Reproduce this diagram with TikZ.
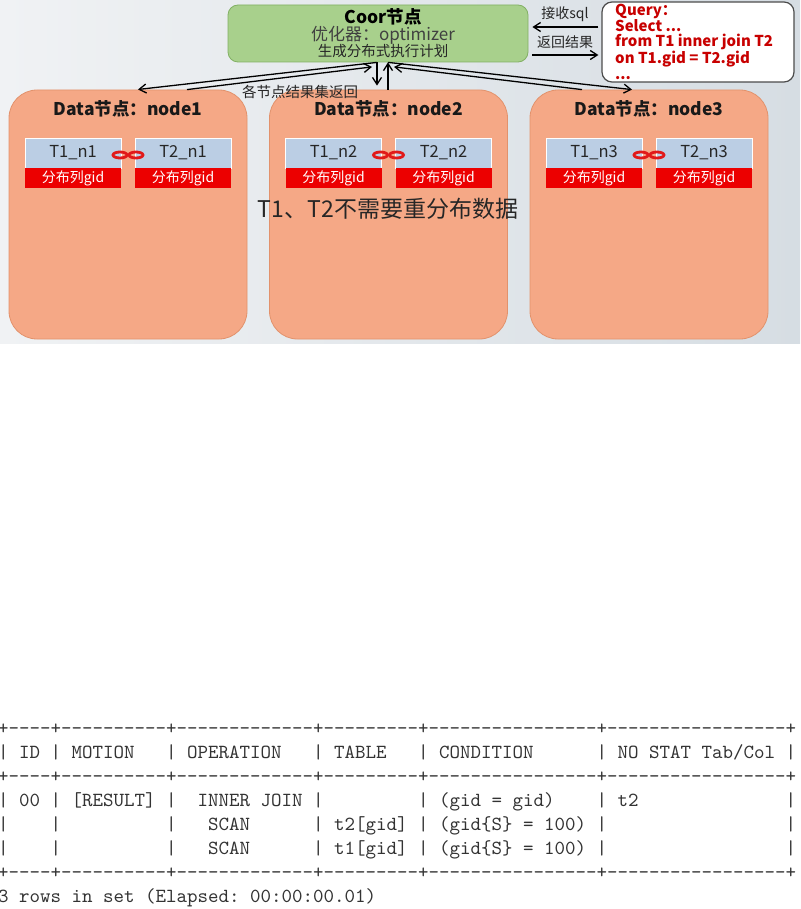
\documentclass[tikz,border=0pt]{standalone}
\usepackage{fontspec}
\setmainfont{Noto Sans CJK SC}
\setmonofont{lmmono10-regular.otf}
\usepackage{tikz}
\usetikzlibrary{arrows.meta,positioning}
\usepackage{xcolor}

\definecolor{bgleft}{RGB}{240,242,244}
\definecolor{bgright}{RGB}{214,221,227}
\definecolor{coorfill}{RGB}{168,208,140}
\definecolor{coorline}{RGB}{130,176,100}
\definecolor{datafill}{RGB}{245,168,134}
\definecolor{dataline}{RGB}{226,146,108}
\definecolor{tabblue}{RGB}{187,206,228}
\definecolor{distred}{RGB}{236,0,0}
\definecolor{queryred}{RGB}{200,0,0}
\definecolor{linkred}{RGB}{225,25,25}

\tikzset{
    arr/.style={line width=1.3pt, -{Straight Barb[length=7pt,width=9pt]}},
    datanode/.style={draw=dataline, fill=datafill, line width=0.8pt, rounded corners=28pt,
        minimum width=238pt, minimum height=249pt},
    nodetitle/.style={font=\fontsize{17.5}{20}\selectfont\bfseries, text=black!90, inner sep=0pt},
    tblbox/.style={fill=tabblue, draw=white, line width=0.6pt, minimum width=96pt, minimum height=30pt,
        inner sep=0pt, font=\fontsize{16.5}{18}\selectfont, text=black!85},
    distbox/.style={fill=distred, minimum width=96pt, minimum height=20pt, inner sep=0pt,
        font=\fontsize{14}{16}\selectfont, text=white},
    lbl/.style={font=\fontsize{14}{16}\selectfont, text=black!85, inner sep=0pt},
    link/.style={draw=linkred, line width=2.8pt},
    planrow/.style={anchor=base west, inner sep=0pt, font=\ttfamily\fontsize{20}{24}\selectfont, text=black!80}
}

\begin{document}
\begin{tikzpicture}[x=1pt, y=-1pt]
    \useasboundingbox (0,0) rectangle (800,909);

    % Background of the upper diagram
    \shade[left color=bgleft, right color=bgright] (0,0) rectangle (800,343);

    % Coordinator node
    \node[draw=coorline, fill=coorfill, line width=0.8pt, rounded corners=10pt,
        minimum width=300pt, minimum height=57pt] (coor) at (378,33.5) {};
    \node[font=\fontsize{17.5}{20}\selectfont\bfseries, inner sep=0pt] (coortitle) at (383,17) {Coor节点};
    \node[font=\fontsize{17}{20}\selectfont, text=black!75, inner sep=0pt] (optimizer) at (383,35) {优化器：optimizer};
    \node[font=\fontsize{14.5}{16}\selectfont, text=black!85, inner sep=0pt] (genplan) at (383,51) {生成分布式执行计划};

    % Query box
    \node[draw=black!70, fill=white, line width=1.2pt, rounded corners=10pt,
        minimum width=192pt, minimum height=80pt] (query) at (698,42) {};
    \node[anchor=north west, align=left, inner sep=0pt, text=queryred,
        font=\fontsize{15}{15.7}\selectfont\bfseries] (sqltext) at (615,4)
        {Query：\\Select ...\\from T1 inner join T2\\on T1.gid = T2.gid\\...};

    % Data nodes with their tables
    \foreach \i/\cx in {1/128, 2/388.5, 3/649} {
        \node[datanode] (n\i) at (\cx,214.5) {};
        \node[nodetitle] (title\i) at (\cx,109) {Data节点：node\i};
        \node[tblbox] (t1n\i) at (\cx-55,153) {T1\_n\i};
        \node[tblbox] (t2n\i) at (\cx+55,153) {T2\_n\i};
        \node[distbox] (d1n\i) at (\cx-55,178) {分布列gid};
        \node[distbox] (d2n\i) at (\cx+55,178) {分布列gid};
        \draw[link] (\cx-8,155) ellipse [x radius=7pt, y radius=3pt];
        \draw[link] (\cx+8,155) ellipse [x radius=7pt, y radius=3pt];
    }

    \node[font=\fontsize{23}{26}\selectfont, text=black!85, inner sep=0pt] (note) at (388,209) {T1、T2不需要重分布数据};

    % Coor <-> data nodes
    \draw[arr, shorten >=1pt] ([xshift=-1pt]coor.south) -- ([xshift=9pt]n1.north);
    \draw[arr] ([xshift=59pt]n1.north) -- ([xshift=-6pt,yshift=-4.5pt]coor.south);
    \draw[arr, shorten >=4pt] ([xshift=-1pt]coor.south) -- ([xshift=-11.5pt]n2.north);
    \draw[arr] ([xshift=-0.5pt]n2.north) -- ([xshift=10pt]coor.south);
    \draw[arr] ([xshift=10pt]coor.south) -- ([xshift=-17pt]n3.north);
    \draw[arr] ([xshift=-67pt]n3.north) -- ([xshift=16pt,yshift=-4.5pt]coor.south);
    \node[lbl, font=\fontsize{14.5}{16}\selectfont] (results) at (300,92) {各节点结果集返回};

    % Coor <-> query
    \draw[arr, shorten <=3pt, shorten >=4pt] ([yshift=15pt]query.west) -- ([yshift=15pt]query.west -| coor.east);
    \draw[arr, shorten <=4pt, shorten >=3pt] ([yshift=-13pt]coor.east |- query.west) -- ([yshift=-13pt]query.west);
    \node[lbl] (recv) at (565,14) {接收sql};
    \node[lbl] (back) at (565,42) {返回结果};

    % Plan output
    \foreach \k/\rowtxt in {
        0/{+----+----------+-------------+---------+----------------+-----------------+},
        1/{|~ID~|~MOTION~~~|~OPERATION~~~|~TABLE~~~|~CONDITION~~~~~~|~NO~STAT~Tab/Col~|},
        2/{+----+----------+-------------+---------+----------------+-----------------+},
        3/{|~00~|~[RESULT]~|~~INNER~JOIN~|~~~~~~~~~|~(gid~=~gid)~~~~|~t2~~~~~~~~~~~~~~|},
        4/{|~~~~|~~~~~~~~~~|~~~SCAN~~~~~~|~t2[gid]~|~(gid\{S\}~=~100)~|~~~~~~~~~~~~~~~~~|},
        5/{|~~~~|~~~~~~~~~~|~~~SCAN~~~~~~|~t1[gid]~|~(gid\{S\}~=~100)~|~~~~~~~~~~~~~~~~~|},
        6/{+----+----------+-------------+---------+----------------+-----------------+},
        7/{3~rows~in~set~(Elapsed:~00:00:00.01)}} {
        \node[planrow] (row\k) at (-2,734+24*\k) {\rowtxt};
    }
\end{tikzpicture}
\end{document}
